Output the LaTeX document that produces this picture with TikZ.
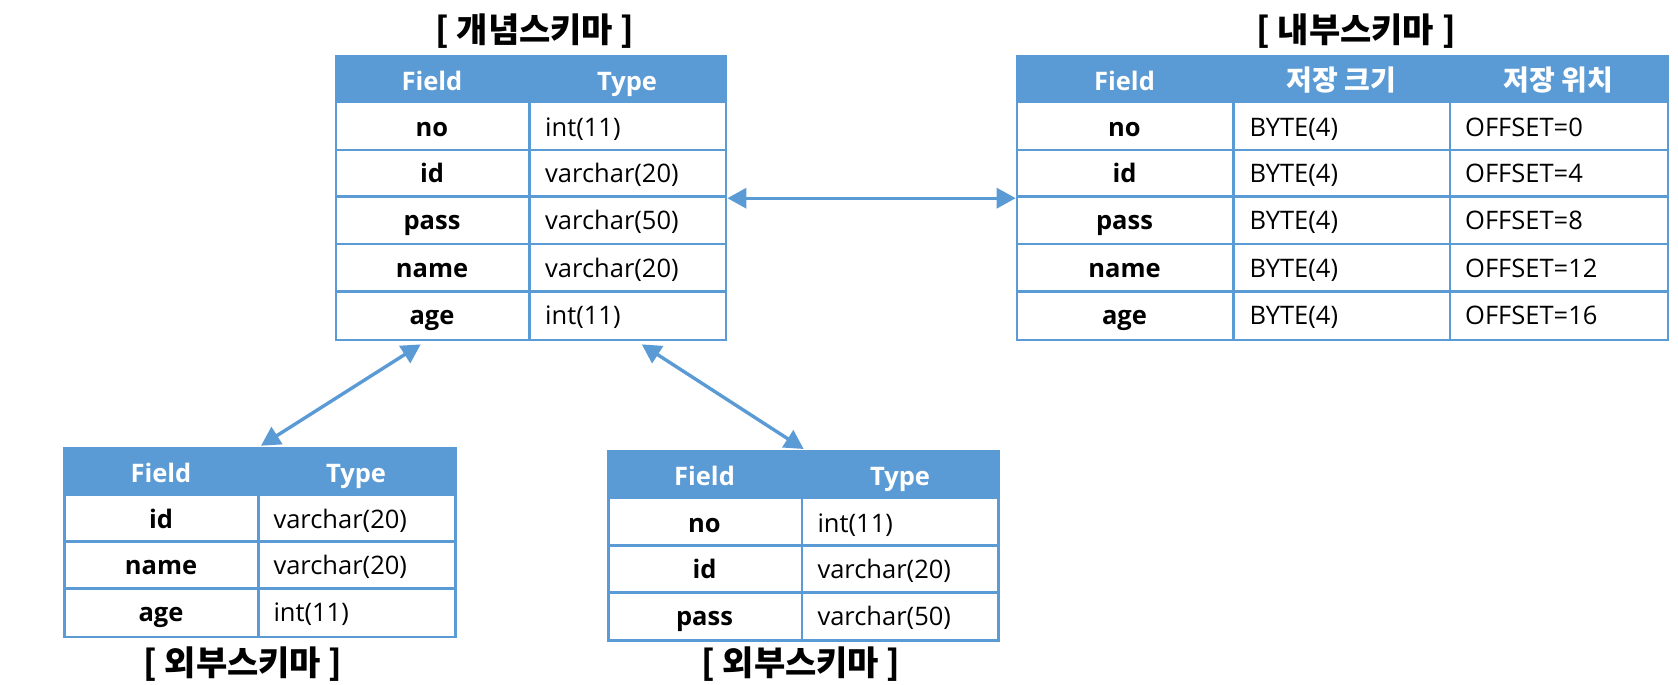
\documentclass[tikz,border=0pt]{standalone}
\usepackage{fontspec}
\setmainfont{Open Sans}
\newfontfamily\kr{Noto Sans CJK KR}
\usetikzlibrary{arrows.meta,calc}
\definecolor{tblue}{HTML}{5B9BD5}
\tikzset{
  tblframe/.style={draw=tblue, line width=2.7pt, inner sep=0pt, anchor=north west},
  gridline/.style={draw=tblue, line width=2.7pt},
  fieldtxt/.style={anchor=base, font=\fontsize{25.5}{30}\selectfont\bfseries, inner sep=0pt},
  typetxt/.style={anchor=base west, font=\fontsize{25.5}{30}\selectfont, inner sep=0pt},
  hdrtxt/.style={anchor=base, font=\fontsize{25.5}{30}\selectfont\bfseries, text=white, inner sep=0pt},
  krhdr/.style={anchor=base, font=\kr\fontsize{28}{30}\selectfont\bfseries, text=white, inner sep=0pt},
  titletxt/.style={font=\kr\fontsize{34}{38}\selectfont\bfseries, inner sep=0pt},
  biarrow/.style={draw=tblue, line width=3.4pt, {Triangle[length=19pt,width=20pt]}-{Triangle[length=19pt,width=20pt]}},
}
\begin{document}
\begin{tikzpicture}[x=1pt,y=-1pt]
\useasboundingbox (0,0) rectangle (1678,685);

% ---------- concept schema ----------
\fill[tblue] (334.7,55) rectangle (724.7,103.3);
\node[tblframe, minimum width=390pt, minimum height=283.7pt] (concept) at (334.7,55) {};
\foreach \yy in {150,196.7,244,291.3} \draw[gridline] (334.7,\yy) -- (724.7,\yy);
\draw[gridline] (529.3,103.3) -- (529.3,338.7);
\node[titletxt] (t1) at (535,31) {[ 개념스키마 ]};
\node[hdrtxt] (c1hf) at (432,90) {Field};
\node[hdrtxt] (c1ht) at (627,90) {Type};
\foreach \i/\f/\t/\b in {1/no/int(11)/136, 2/id/varchar(20)/182.7, 3/pass/varchar(50)/229.7, 4/name/varchar(20)/277, 5/age/int(11)/324.3}{
  \node[fieldtxt] (c1f\i) at (432,\b) {\f};
  \node[typetxt] (c1t\i) at (545,\b) {\t};
}

% ---------- internal schema ----------
\fill[tblue] (1015.7,55) rectangle (1666.7,103.3);
\node[tblframe, minimum width=651pt, minimum height=283.7pt] (internal) at (1015.7,55) {};
\foreach \yy in {150,196.7,244,291.3} \draw[gridline] (1015.7,\yy) -- (1666.7,\yy);
\draw[gridline] (1233.3,103.3) -- (1233.3,338.7);
\draw[gridline] (1450,103.3) -- (1450,338.7);
\node[titletxt] (t2) at (1356,31) {[ 내부스키마 ]};
\node[hdrtxt] (c2hf) at (1124.5,90) {Field};
\node[krhdr] (c2hs) at (1341.7,90) {저장 크기};
\node[krhdr] (c2hp) at (1558.3,90) {저장 위치};
\foreach \i/\f/\o/\b in {1/no/0/136, 2/id/4/182.7, 3/pass/8/229.7, 4/name/12/277, 5/age/16/324.3}{
  \node[fieldtxt] (c2f\i) at (1124.5,\b) {\f};
  \node[typetxt] (c2s\i) at (1249.3,\b) {BYTE(4)};
  \node[typetxt] (c2o\i) at (1465,\b) {OFFSET=\o};
}

% ---------- external schema 1 ----------
\fill[tblue] (63.3,446.7) rectangle (454,495.7);
\node[tblframe, minimum width=390.7pt, minimum height=189pt] (ext1) at (63.3,446.7) {};
\foreach \yy in {541.7,588.3} \draw[gridline] (63.3,\yy) -- (454,\yy);
\draw[gridline] (258.3,495.7) -- (258.3,635.7);
\node[titletxt] (t3) at (243,664) {[ 외부스키마 ]};
\node[hdrtxt] (e1hf) at (161,482) {Field};
\node[hdrtxt] (e1ht) at (356,482) {Type};
\foreach \i/\f/\t/\b in {1/id/varchar(20)/528, 2/name/varchar(20)/574.5, 3/age/int(11)/621.5}{
  \node[fieldtxt] (e1f\i) at (161,\b) {\f};
  \node[typetxt] (e1t\i) at (273.3,\b) {\t};
}

% ---------- external schema 2 ----------
\fill[tblue] (607.3,450) rectangle (997.3,499.3);
\node[tblframe, minimum width=390pt, minimum height=189.3pt] (ext2) at (607.3,450) {};
\foreach \yy in {545.7,592.7} \draw[gridline] (607.3,\yy) -- (997.3,\yy);
\draw[gridline] (802,499.3) -- (802,639.3);
\node[titletxt] (t4) at (801,664) {[ 외부스키마 ]};
\node[hdrtxt] (e2hf) at (704.5,485.5) {Field};
\node[hdrtxt] (e2ht) at (900,485.5) {Type};
\foreach \i/\f/\t/\b in {1/no/int(11)/532, 2/id/varchar(20)/578.5, 3/pass/varchar(50)/625.5}{
  \node[fieldtxt] (e2f\i) at (704.5,\b) {\f};
  \node[typetxt] (e2t\i) at (817.3,\b) {\t};
}

% ---------- connectors ----------
\coordinate (a1) at ($(concept.south west)!0.219!(concept.south east)+(0,3)$);
\coordinate (a2) at ($(concept.south west)!0.782!(concept.south east)+(0,3)$);
\draw[biarrow] (concept.east) -- (internal.west);
\draw[biarrow] (a1) -- ($(ext1.north)+(1,-1)$);
\draw[biarrow] (a2) -- ($(ext2.north)+(0,-1)$);
\end{tikzpicture}
\end{document}
